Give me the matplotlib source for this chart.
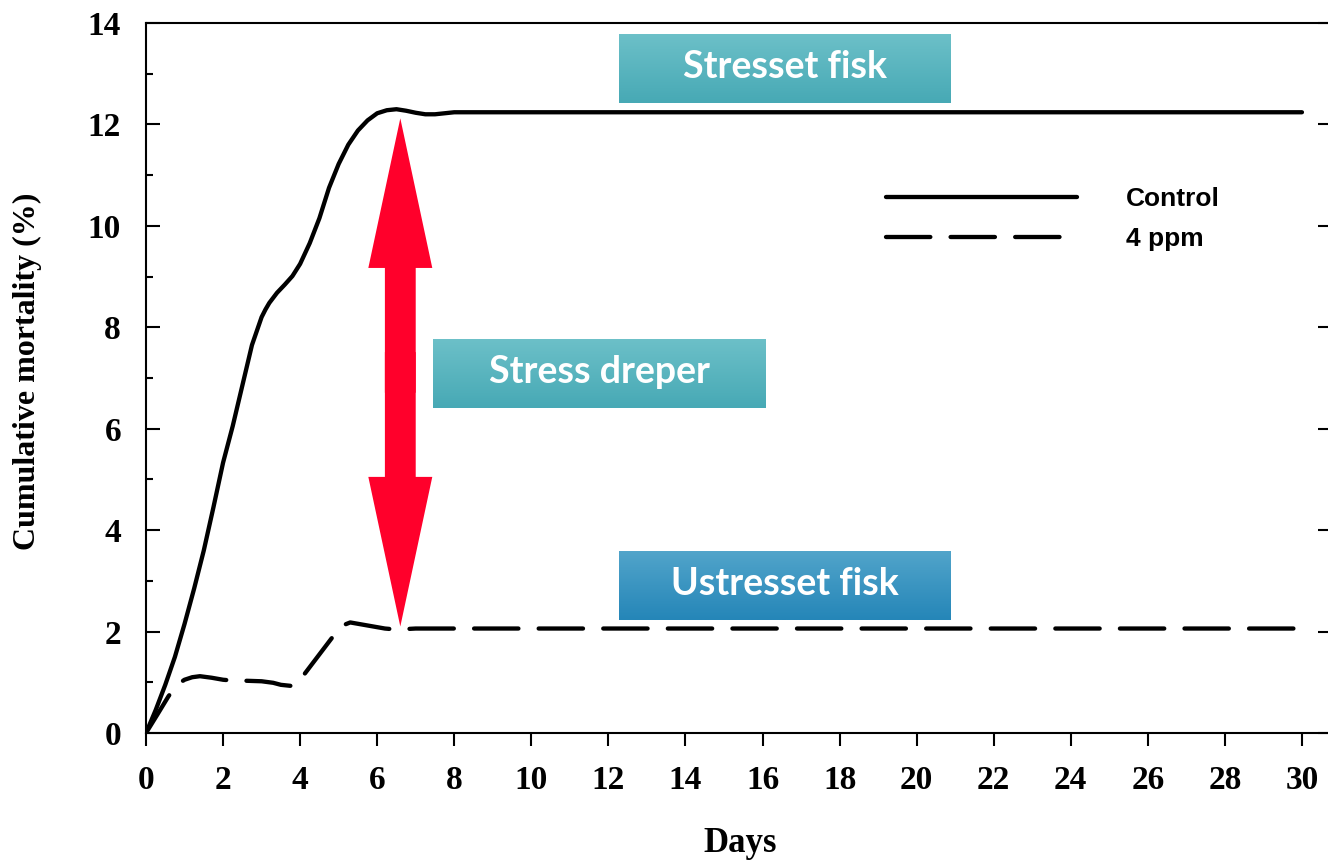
import numpy as np
import matplotlib.pyplot as plt
from matplotlib.patches import FancyArrow
from matplotlib.ticker import MultipleLocator

# data
days_control = [0, 0.25, 0.5, 0.75, 1, 1.25, 1.5, 1.75, 2, 2.25, 2.5, 2.75, 3, 3.1, 3.2, 3.4,
                3.6, 3.8, 4, 4.25, 4.5, 4.75, 5, 5.25, 5.5, 5.75, 6, 6.25, 6.5, 6.75, 7,
                7.25, 7.5, 7.75, 8, 30]
mort_control = [0, 0.45, 0.95, 1.5, 2.15, 2.85, 3.6, 4.45, 5.33, 6.05, 6.85, 7.65, 8.2, 8.35,
                8.48, 8.68, 8.84, 9.01, 9.25, 9.66, 10.15, 10.75, 11.22, 11.6, 11.88, 12.08,
                12.22, 12.28, 12.3, 12.27, 12.23, 12.2, 12.2, 12.22, 12.24, 12.24]

days_4ppm = [0, 0.3, 0.58, 0.8, 1, 1.2, 1.4, 1.7, 2, 2.3, 2.6, 3, 3.3, 3.5, 3.75, 3.9, 4.1,
             4.5, 4.9, 5.1, 5.3, 5.6, 5.9, 6.2, 6.5, 7, 30]
mort_4ppm = [0, 0.37, 0.72, 0.95, 1.05, 1.1, 1.12, 1.09, 1.05, 1.03, 1.03, 1.02, 0.99, 0.95,
             0.93, 0.95, 1.15, 1.55, 1.95, 2.12, 2.18, 2.14, 2.10, 2.06, 2.04, 2.06, 2.06]

series_labels = ["Control", "4 ppm"]
x_ticks = list(range(0, 31, 2))
y_ticks = list(range(0, 15, 2))

box_labels = ["Stresset fisk", "Stress dreper", "Ustresset fisk"]

W, H = 1328, 861
fig = plt.figure(figsize=(W / 100, H / 100), dpi=100)
ax = fig.add_axes([146 / W, 1 - 733 / H, (1332 - 146) / W, 710 / H])

ax.plot(days_control, mort_control, color="black", lw=3.1, solid_capstyle="round",
        solid_joinstyle="round", label=series_labels[0], zorder=3)
ax.plot(days_4ppm, mort_4ppm, color="black", lw=3.1, dashes=(10.3, 4.7),
        dash_capstyle="round", dash_joinstyle="round", label=series_labels[1], zorder=3)

ax.set_xticks(x_ticks)
ax.set_yticks(y_ticks)
ax.yaxis.set_minor_locator(MultipleLocator(1))

serif = ["Liberation Serif", "DejaVu Serif"]
for lab in ax.get_xticklabels() + ax.get_yticklabels():
    lab.set_family(serif)
    lab.set_fontweight("bold")
    lab.set_fontsize(24)

ax.tick_params(axis="x", direction="out", length=9, width=1.5, pad=14, top=False)
ax.tick_params(axis="y", which="major", direction="in", length=10, width=1.5, pad=18, right=True)
ax.tick_params(axis="y", which="minor", direction="in", length=5, width=1.5, right=False)
for s in ax.spines.values():
    s.set_linewidth(1.5)

ax.set_xlabel("Days", family=serif, fontweight="bold", fontsize=25)
ax.xaxis.set_label_coords(0.501, -0.133)
ax.set_ylabel("Cumulative mortality (%)", family=serif, fontweight="bold", fontsize=23)
ax.yaxis.set_label_coords(-0.088, 0.51)

# double red arrow between the two curves
arrow_x = 6.6
top_v, bot_v = 12.12, 2.10
mid_v = (top_v + bot_v) / 2
red = "#FF002B"
for start, end in ((mid_v - 0.4, top_v), (mid_v + 0.4, bot_v)):
    ax.add_patch(FancyArrow(arrow_x, start, 0, end - start, width=0.80, head_width=1.66,
                            head_length=2.95, length_includes_head=True,
                            color=red, lw=0, zorder=4))

# gradient label boxes
def label_box(x0, x1, y0, y1, text, c_top, c_bot):
    c_top = np.array(plt.matplotlib.colors.to_rgb(c_top))
    c_bot = np.array(plt.matplotlib.colors.to_rgb(c_bot))
    t = np.linspace(0, 1, 64)[:, None]
    grad = (c_top * (1 - t) + c_bot * t)[:, None, :]
    ax.imshow(grad, extent=(x0, x1, y0, y1), aspect="auto", origin="upper", zorder=5)
    ax.text((x0 + x1) / 2, (y0 + y1) / 2 + 0.03, text, ha="center", va="center", color="white",
            fontsize=27, fontweight="bold", family=["Lato", "DejaVu Sans"], zorder=6)

label_box(12.28, 20.89, 12.42, 13.78, box_labels[0], "#6CC0C8", "#47A9B5")
label_box(7.45, 16.09, 6.41, 7.77, box_labels[1], "#6CC0C8", "#47A9B5")
label_box(12.28, 20.89, 2.23, 3.59, box_labels[2], "#51A4CA", "#2586B8")

ax.set_xlim(0, 30.78)
ax.set_ylim(0, 14)

leg = ax.legend(loc="upper left", bbox_to_anchor=(886 / W, 1 - 187 / H),
                bbox_transform=fig.transFigure, frameon=False, borderpad=0,
                borderaxespad=0, handlelength=7.25, handletextpad=1.85, labelspacing=0.6,
                prop=dict(family=["Liberation Sans", "DejaVu Sans"], weight="bold", size=19))

fig.savefig("out.png", dpi=100)
